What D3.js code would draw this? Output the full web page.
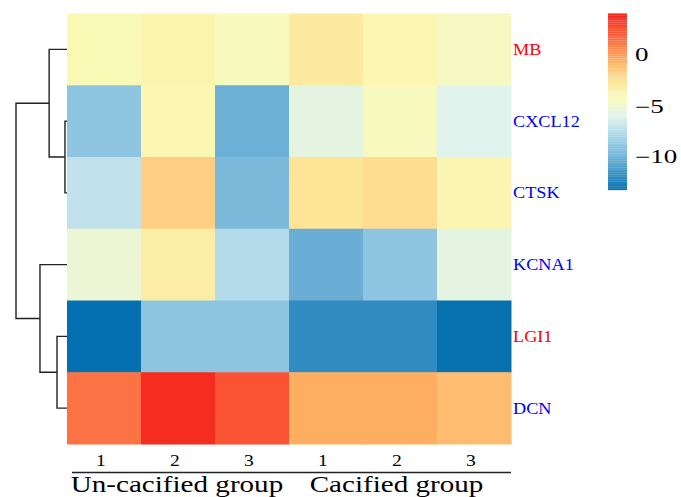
<!DOCTYPE html>
<html>
<head>
<meta charset="utf-8">
<script src="https://cdn.jsdelivr.net/npm/d3@7"></script>
<style>
  body { margin: 0; background: #fff; }
  svg text { font-family: "Liberation Serif", "Times New Roman", Times, serif; }
</style>
</head>
<body>
<div id="chart"></div>
<script>
// heatmap data (rows = genes, cols = samples)
const genes = ['MB', 'CXCL12', 'CTSK', 'KCNA1', 'LGI1', 'DCN'];
const geneColors = ['#f00', '#00f', '#00f', '#00f', '#f00', '#00f'];
const samples = ['U1', 'U2', 'U3', 'C1', 'C2', 'C3'];
const sampleLabels = ['1', '2', '3', '1', '2', '3'];
const groups = ['Un-cacified group', 'Cacified group'];
const values = [
  [-3.8, -3.5, -4.2, -2.8, -3.7, -4.3],
  [-8.8, -3.7, -10.0, -5.5, -4.2, -5.9],
  [-7.0, -1.6, -9.5, -2.4, -2.1, -3.6],
  [-5.0, -3.0, -7.5, -10.1, -8.8, -5.5],
  [-13.2, -8.8, -8.8, -11.8, -11.8, -13.1],
  [1.3, 3.8, 2.4, -0.4, -0.4, -0.9]
];
// colour stops
const stopValues = [-13.2, -10.1, -7.8, -5.9, -3.95, -2.3, -0.4, 1.55, 3.9];
const stopColors = ['#0570b0', '#6aaed5', '#aad6e8', '#e0f3ec', '#fafab8', '#fee395', '#fdae61', '#fb6a40', '#f52a1f'];
const legendTicks = [0, -5, -10];
// row dendrogram: [left, right, height]; leaf refs are {leaf: i}, numbers are earlier merges
const merges = [
  [{ leaf: 1 }, { leaf: 2 }, 0.4],  // CXCL12 + CTSK
  [{ leaf: 4 }, { leaf: 5 }, 1.96], // LGI1 + DCN
  [{ leaf: 0 }, 0, 3.5],            // MB + (CXCL12,CTSK)
  [{ leaf: 3 }, 1, 5.3],            // KCNA1 + (LGI1,DCN)
  [2, 3, 10]
];

const W = 681, H = 497;
const svg = d3.select('#chart').append('svg').attr('width', W).attr('height', H);

const x = d3.scaleBand().domain(samples).range([67, 511]);
const y = d3.scaleBand().domain(genes).range([13.5, 444]);
const color = d3.scaleLinear().domain(stopValues).range(stopColors).clamp(true);

// cells
genes.forEach((g, i) => {
  svg.selectAll(null).data(values[i]).enter().append('rect')
    .attr('x', (d, j) => x(samples[j]))
    .attr('y', y(g))
    .attr('width', x.bandwidth() + 0.5)
    .attr('height', y.bandwidth() + 0.5)
    .attr('fill', d => color(d));
});

// row labels (the original picture is stretched horizontally)
genes.forEach((g, i) => {
  svg.append('text')
    .attr('transform', `translate(513,${y(g) + y.bandwidth() / 2}) scale(1.14,1)`)
    .attr('dy', '0.35em')
    .attr('font-size', 16)
    .attr('fill', geneColors[i])
    .text(g);
});

// dendrogram
const dx = d3.scaleLinear().domain([0, 10]).range([67, 16]);
const nodes = [];
function pos(ref) {
  if (typeof ref === 'object') {
    return { x: dx(0), y: y(genes[ref.leaf]) + y.bandwidth() / 2 };
  }
  return nodes[ref];
}
const dend = svg.append('g').attr('stroke', '#222').attr('stroke-width', 1.4).attr('fill', 'none');
merges.forEach(([a, b, h]) => {
  const pa = pos(a), pb = pos(b), hx = dx(h);
  dend.append('path').attr('d', `M${pa.x},${pa.y}H${hx}V${pb.y}H${pb.x}`);
  nodes.push({ x: hx, y: (pa.y + pb.y) / 2 });
});

// column labels
svg.selectAll('.clab').data(samples).enter().append('text')
  .attr('transform', d => `translate(${x(d) + x.bandwidth() / 2 - 3},466) scale(1.15,1)`)
  .attr('text-anchor', 'middle')
  .attr('font-size', 17)
  .text((d, j) => sampleLabels[j]);

// group lines and labels
const groupSpans = [[samples[0], samples[2]], [samples[3], samples[5]]];
groupSpans.forEach(([a, b], k) => {
  const x0 = k === 0 ? x(a) + 5 : x(a) - 7;
  const x1 = k === 0 ? x(b) + x.bandwidth() - 7 : x(b) + x.bandwidth();
  svg.append('line').attr('x1', x0).attr('x2', x1).attr('y1', 472.5).attr('y2', 472.5)
    .attr('stroke', '#222').attr('stroke-width', 1.3);
  svg.append('text')
    .attr('transform', `translate(${(x0 + x1) / 2},492) scale(1.265,1)`)
    .attr('text-anchor', 'middle')
    .attr('font-size', 23)
    .text(groups[k]);
});

// colour legend
const ly = d3.scaleLinear().domain([0, -5, -10]).range([55, 107, 157]);
const lv = d3.range(100).map(i => 4.0 - i * (17.3 / 100));
svg.selectAll('.leg').data(lv).enter().append('rect')
  .attr('x', 608)
  .attr('y', d => ly(d))
  .attr('width', 19)
  .attr('height', ly(0) - ly(0.18))
  .attr('fill', d => color(d));
svg.selectAll('.ltick').data(legendTicks).enter().append('text')
  .attr('transform', d => `translate(635,${ly(d)}) scale(1.5,1)`)
  .attr('dy', '0.35em')
  .attr('font-size', 18)
  .text(d => d === 0 ? '0' : '\u2212' + Math.abs(d));
</script>
</body>
</html>
